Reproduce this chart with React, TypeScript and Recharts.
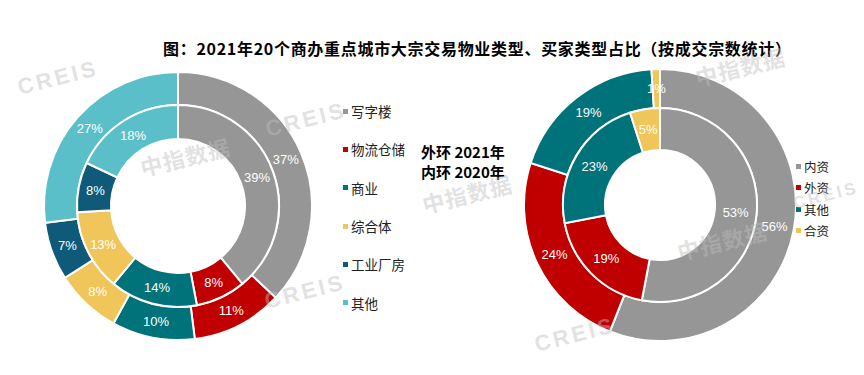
import React from "react";
import { PieChart, Pie, Cell, Legend } from "recharts";

const propertyTypes = ["写字楼", "物流仓储", "商业", "综合体", "工业厂房", "其他"];
const property2021 = [37, 11, 10, 8, 7, 27];
const property2020 = [39, 8, 14, 13, 8, 18];
const propertyColors = ["#969696", "#c00000", "#00737a", "#f0c55a", "#0f5a78", "#5bbfca"];

const buyerTypes = ["内资", "外资", "其他", "合资"];
const buyer2021 = [56, 24, 19, 1];
const buyer2020 = [53, 19, 23, 5];
const buyerColors = ["#969696", "#c00000", "#00737a", "#f0c55a"];

// faint source watermarks laid over the picture
const watermarkTexts = ["CREIS", "CREIS", "中指数据", "CREIS", "中指数据", "中指数据", "CREIS", "CREIS", "中指数据"];
const watermarkSpots = [
  [58, 78],
  [306, 120],
  [185, 156],
  [305, 292],
  [467, 193],
  [740, 66],
  [575, 335],
  [826, 196],
  [722, 240],
];

const FONT = '"Liberation Sans", Arial, "Noto Sans CJK SC", sans-serif';
const CJK = '"Noto Sans CJK SC", "Liberation Sans", sans-serif';
const RAD = Math.PI / 180;

const toRows = (names: string[], values: number[]) =>
  names.map((name, i) => ({ name, value: values[i] }));

const renderLabel = (props: any) => {
  const { cx, cy, midAngle, innerRadius, outerRadius, value } = props;
  const r = (innerRadius + outerRadius) / 2;
  const x = cx + r * Math.cos(-midAngle * RAD);
  const y = cy + r * Math.sin(-midAngle * RAD);
  return (
    <text
      x={x}
      y={y}
      fill="#fff"
      fontSize={13}
      fontFamily={FONT}
      textAnchor="middle"
      dominantBaseline="central"
    >
      {value}%
    </text>
  );
};

// legend payload holds both rings, so keep one entry per category in data order
const makeLegend =
  (names: string[], colors: string[], rowHeight: number, fontSize: number) =>
  ({ payload }: any) => {
    const shown = names.filter((n) =>
      (payload || []).some((p: any) => p.value === n)
    );
    return (
      <div style={{ fontFamily: CJK, fontSize, color: "#222" }}>
        {shown.map((name) => (
          <div
            key={name}
            style={{ display: "flex", alignItems: "center", height: rowHeight }}
          >
            <span
              style={{
                display: "inline-block",
                width: 5,
                height: 5,
                background: colors[names.indexOf(name)],
                marginRight: 3,
              }}
            />
            {name}
          </div>
        ))}
      </div>
    );
  };

const App = () => {
  return (
    <div
      style={{
        position: "absolute",
        left: 0,
        top: 0,
        width: 864,
        height: 375,
        background: "#fff",
        overflow: "hidden",
      }}
    >
      <div style={{ position: "absolute", left: 0, top: 0 }}>
        <PieChart width={400} height={375}>
          <Pie
            data={toRows(propertyTypes, property2021)}
            dataKey="value"
            nameKey="name"
            cx={173}
            cy={201}
            innerRadius={101}
            outerRadius={134}
            startAngle={90}
            endAngle={-270}
            stroke="#fff"
            strokeWidth={2}
            label={renderLabel}
            labelLine={false}
            isAnimationActive={false}
          >
            {propertyTypes.map((n, i) => (
              <Cell key={n} fill={propertyColors[i]} />
            ))}
          </Pie>
          <Pie
            data={toRows(propertyTypes, property2020)}
            dataKey="value"
            nameKey="name"
            cx={173}
            cy={201}
            innerRadius={67}
            outerRadius={101}
            startAngle={90}
            endAngle={-270}
            stroke="#fff"
            strokeWidth={2}
            label={renderLabel}
            labelLine={false}
            legendType="none"
            isAnimationActive={false}
          >
            {propertyTypes.map((n, i) => (
              <Cell key={n} fill={propertyColors[i]} />
            ))}
          </Pie>
          <Legend
            layout="vertical"
            content={makeLegend(propertyTypes, propertyColors, 38.3, 13.5)}
            wrapperStyle={{ left: 343, top: 92, width: 70 }}
          />
        </PieChart>
      </div>

      <div style={{ position: "absolute", left: 400, top: 0 }}>
        <PieChart width={464} height={375}>
          <Pie
            data={toRows(buyerTypes, buyer2021)}
            dataKey="value"
            nameKey="name"
            cx={255}
            cy={200}
            innerRadius={97}
            outerRadius={136}
            startAngle={90}
            endAngle={-270}
            stroke="#fff"
            strokeWidth={2}
            label={renderLabel}
            labelLine={false}
            isAnimationActive={false}
          >
            {buyerTypes.map((n, i) => (
              <Cell key={n} fill={buyerColors[i]} />
            ))}
          </Pie>
          <Pie
            data={toRows(buyerTypes, buyer2020)}
            dataKey="value"
            nameKey="name"
            cx={255}
            cy={200}
            innerRadius={55}
            outerRadius={97}
            startAngle={90}
            endAngle={-270}
            stroke="#fff"
            strokeWidth={2}
            label={renderLabel}
            labelLine={false}
            legendType="none"
            isAnimationActive={false}
          >
            {buyerTypes.map((n, i) => (
              <Cell key={n} fill={buyerColors[i]} />
            ))}
          </Pie>
          <Legend
            layout="vertical"
            content={makeLegend(buyerTypes, buyerColors, 21.3, 12.5)}
            wrapperStyle={{ left: 396, top: 156, width: 50 }}
          />
        </PieChart>
      </div>

      <div
        style={{
          position: "absolute",
          left: 163,
          top: 39,
          fontFamily: CJK,
          fontWeight: 700,
          fontSize: 16,
          letterSpacing: 0.7,
          lineHeight: "18px",
          whiteSpace: "nowrap",
          color: "#000",
        }}
      >
        图：2021年20个商办重点城市大宗交易物业类型、买家类型占比（按成交宗数统计）
      </div>

      <div
        style={{
          position: "absolute",
          left: 421,
          top: 142,
          fontFamily: CJK,
          fontWeight: 700,
          fontSize: 15,
          lineHeight: "20px",
          whiteSpace: "nowrap",
          color: "#000",
        }}
      >
        <div>外环 2021年</div>
        <div>内环 2020年</div>
      </div>

      {watermarkTexts.map((t, i) => (
        <div
          key={i}
          style={{
            position: "absolute",
            left: watermarkSpots[i][0],
            top: watermarkSpots[i][1],
            transform: "translate(-50%, -50%) rotate(-14deg)",
            fontFamily: t === "CREIS" ? FONT : CJK,
            fontWeight: 600,
            fontSize: i === 7 ? 17 : 22,
            letterSpacing: t === "CREIS" ? 3 : 1,
            color: "rgba(190,190,190,0.45)",
            whiteSpace: "nowrap",
            pointerEvents: "none",
          }}
        >
          {t}
        </div>
      ))}
    </div>
  );
};

export default App;
